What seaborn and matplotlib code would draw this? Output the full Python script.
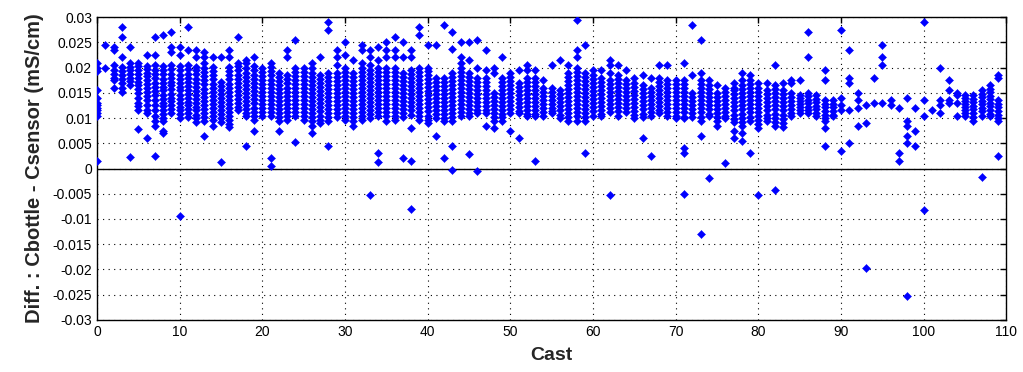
import pandas as pd
import matplotlib
matplotlib.use("Agg")
import matplotlib.pyplot as plt
import seaborn as sns
from matplotlib.ticker import FuncFormatter

# Cbottle - Csensor per cast, in 1e-3 mS/cm
diffs_casts_0_29 = [
    "21 20 19.3 15.5 14 13 12.5 12 11.5 11 10.5 1.5",
    "24.5 20",
    "24 23.5 20.5 19.5 18.8 18 17.5 16",
    "28 26 22 20.2 19.3 18.5 17.8 17 16 15.2",
    "24 21 20.2 19.5 18.8 18 17.3 16.5 2.2",
    "21 20.3 19.5 18.7 18 17.2 16.5 15.8 15 14 13 12.3 11.5 7.8",
    "22.5 20.4 19.7 19 18.3 17.5 16.7 16 15.2 14.4 13.5 12.5 11.6 11 6",
    "26 22.5 20.5 19.6 18.8 18 17 16.2 15.3 14.5 13.5 12.5 11.5 10.5 9.5 8.5 2.5",
    "26.5 20.3 19.5 18.7 17.8 17 16.2 15.5 14.6 13.8 13 12.3 11.5 10.8 10 9.5 7.5 7",
    "27 24 23 20.5 19.7 18.8 18 17.2 16.5 15.7 14.8 14 13.3 12.5 11.8 11",
    "24 22.5 20.3 19.5 18.5 17.8 17 16.2 15.5 14.6 13.8 13 12.2 11.5 10.8 10 -9.5",
    "28 23.5 20.5 19.7 18.8 18 17.2 16.3 15.5 14.7 14 13.2 12.5 11.8 11 10.3",
    "23.5 22 20.2 19.5 18.7 17.8 17 16.2 15.3 14.5 13.8 13 12.2 11.5 10.7 10 9.3",
    "23 22 21 20 19.2 18.3 17.5 16.7 15.8 15 14.2 13.4 12.6 11.8 11 10.2 9.5 6.5",
    "22 20.2 19.4 18.5 17.7 16.8 16 15.2 14.4 13.6 12.8 12 11.2 10.4 9.6 8.5",
    "22 17.2 16.4 15.5 14.7 13.9 13.2 12.4 11.6 10.8 10 9.3 1.2",
    "23.5 22 20.2 19.4 18.5 17.7 16.8 16 15.2 14.4 13.6 12.8 12 11.2 10.4 9.6 8.8 8.2",
    "26 21 20.3 19.5 18.6 17.8 17 16.2 15.4 14.6 13.8 13 12.2 11.5",
    "21.5 21 20 19 18.2 17.4 16.6 15.8 15 14.2 13.4 12.6 11.8 11 10.5 4.5",
    "22 20.3 19.5 18.6 17.8 17 16.2 15.4 14.5 13.7 12.9 12 11.2 10.4 9.6 7.5",
    "20 19.2 18.4 17.6 16.8 16 15.2 14.4 13.6 12.8 12 11.2 10.4",
    "21 20.2 19.3 18.5 17.6 16.8 16 15.2 14.4 13.5 12.7 11.9 11.1 10.5 2 0.5",
    "19 18.2 17.4 16.6 15.8 15 14.2 13.4 12.6 11.8 11 10.2 9.5 7.5",
    "23.5 22 18.5 17.7 16.9 16 15.2 14.4 13.6 12.8 12 11.2 10.4 9.6",
    "25.5 20 19.2 18.4 17.6 16.8 16 15.2 14.4 13.6 12.8 12 11.2 10.4 5.2",
    "20 19.2 18.4 17.6 16.8 16 15.2 14.4 13.6 12.8 12 11.2 10.4 9.6",
    "21 20 19 18.2 17.4 16.6 15.8 15 14.2 13.4 12.6 11.8 11 10.2 9.4 8.5 7",
    "22 18.5 17.7 16.9 16.1 15.3 14.5 13.7 12.9 12.1 11.3 10.5 9.7 9",
    "29 27.5 19 18.2 17.4 16.6 15.8 15 14.2 13.4 12.6 11.8 11 10.2 9.4 4.5",
    "23.5 22 20.5 19 18.2 17.4 16.6 15.8 15 14.2 13.4 12.6 11.8 11 10.2",
]
diffs_casts_30_59 = [
    "25 22.5 20 19.2 18.4 17.6 16.8 16 15.2 14.4 13.6 12.8 12 11.2 10.4 9.6",
    "21.5 19 18.2 17.4 16.6 15.8 15 14.2 13.4 12.6 11.8 11 10.2 9.4 8.5",
    "24.5 23.5 21 20 19.2 18.4 17.6 16.8 16 15.2 14.4 13.6 12.8 12 11.2 10.4 9.6",
    "23.5 22 20.5 19.6 18.8 18 17.2 16.4 15.6 14.8 14 13.2 12.4 11.6 10.8 10 -5.3",
    "24 21.5 20 19.2 18.4 17.6 16.8 16 15.2 14.4 13.6 12.8 12 11.2 10.4 3 1.3",
    "25 23.5 22 20 19.2 18.4 17.6 16.8 16 15.2 14.4 13.6 12.8 12 11.2 10.4 9.5",
    "26 23.5 22 20 19.2 18.4 17.6 16.8 16 15.2 14.4 13.6 12.8 12 11.2 10.4 9.6",
    "25 22 19 18.2 17.4 16.6 15.8 15 14.2 13.4 12.6 11.8 11 10.2 2",
    "23.5 22 19.5 18.7 17.9 17.1 16.3 15.5 14.7 13.9 13.1 12.3 11.5 10.7 8 1.5 -8",
    "28 26.5 20 19.2 18.4 17.6 16.8 16 15.2 14.4 13.6 12.8 12 11.2 10.4 9.6",
    "24.5 20 19.3 18.5 17.7 16.9 16.1 15.3 14.5 13.7 12.9 12.1 11.3 10.5 9.7 9",
    "24.5 18 17.2 16.4 15.6 14.8 14 13.2 12.4 11.6 10.8 10 6.5",
    "28.5 18 17.2 16.4 15.6 14.8 14 13.2 12.4 11.6 10.8 10 9.5 2",
    "27 23.7 19 18.2 17.4 16.6 15.8 15 14.2 13.4 12.6 11.8 11 10.2 9.5 4.5 -0.2",
    "25 22 21 20 19.2 18.4 17.6 16.8 16 15.2 14.4 13.6 12.8 12 11.2 10.4",
    "25 21.5 19 18.2 17.4 16.6 15.8 15 14.2 13.4 12.6 11.8 11 10.5 2.8",
    "25.5 20 18 17.2 16.4 15.6 14.8 14 13.2 12.4 11.6 11 -0.5",
    "23.5 19.5 18 17.2 16.4 15.6 14.8 14 13.2 12.4 11.6 11 8.5",
    "20 19 15 14.2 13.4 12.6 11.8 11 10.2 9.5 8",
    "22 18 17.2 16.4 15.6 14.8 14 13.2 12.4 11.6 10.8 10.2 9.5",
    "19 18.2 17.4 16.6 15.8 15 14.2 13.4 12.6 11.8 11 7.5",
    "19.5 17 16.2 15.4 14.6 13.8 13 12.2 11.4 11 6",
    "20.5 19.5 18 17.2 16.4 15.6 14.8 14 13.2 12.4 11.6 10.8 10.5",
    "19.5 18 17.2 16.4 15.6 14.8 14 13.2 12.4 11.6 10.8 10.5 1.5",
    "17.5 16 15.2 14.4 13.6 12.8 12 11.2 10.5",
    "20.5 16 15.2 14.4 13.6 12.8 12 11.4 11",
    "21.5 15.5 14.7 13.9 13.1 12.3 11.5 10.7 10",
    "20.5 19 18.2 17.4 16.6 15.8 15 14.2 13.4 12.6 11.8 11 10.2 9.5",
    "29.5 23.5 22 20 19.2 18.4 17.6 16.8 16 15.2 14.4 13.6 12.8 12 11.2 10.4 9.5",
    "24.5 19 18.2 17.4 16.6 15.8 15 14.2 13.4 12.6 11.8 11 10.2 9.5 3",
]
diffs_casts_60_89 = [
    "19.5 18.5 17.7 16.9 16.1 15.3 14.5 13.7 12.9 12.1 11.3 10.5",
    "19.5 18 17.2 16.4 15.6 14.8 14 13.2 12.4 11.6 10.8 10.5",
    "21.5 20.5 19 17.5 16.7 15.9 15.1 14.3 13.5 12.7 11.9 11.1 -5.3",
    "20.5 18.5 17.7 16.9 16.1 15.3 14.5 13.7 12.9 12.1 11.3 10.5",
    "19.5 17.5 16.7 15.9 15.1 14.3 13.5 12.7 11.9 11.1",
    "18 17 16.2 15.4 14.6 13.8 13 12.2 11.4 10.6 10",
    "18.5 16.5 15.7 14.9 14.1 13.3 12.5 11.7 10.9 10.2 6",
    "18 16 15.2 14.4 13.6 12.8 12 11.2 10.5 2.5",
    "20.5 18 17.2 16.4 15.6 14.8 14 13.2 12.4 11.6 11",
    "20.5 17.5 16.7 15.9 15.1 14.3 13.5 12.7 11.9 11.1 10.5",
    "17.5 16.7 15.9 15.1 14.3 13.5 12.7 11.9 11.1 10.5 10",
    "21 17.5 16.7 15.9 15.1 14.3 13.5 12.7 11.9 11.1 10.3 10 4 3 -5",
    "28.5 18.5 15 14.2 13.4 12.6 11.8 11 10.2",
    "25.5 19 17.5 16.7 15.9 15.1 14.3 13.5 12.7 11.9 11.1 10.3 9.5 6.5 -13",
    "17.5 16.5 15.7 14.9 14.1 13.3 12.5 11.7 10.9 10.5 -1.8",
    "16.5 15 14.2 13.4 12.6 11.8 11 10.2 9.5 8.5",
    "16 15.2 14.4 13.6 12.8 12 11.2 10.5 10 1",
    "17 16 15.5 14.7 13.9 13.1 12.3 11.5 10.7 9.9 9.2 7.5 6",
    "19 17.5 16.5 15.7 14.9 14.1 13.3 12.5 11.7 10.9 10.1 9.3 8.5 7 5.5",
    "18.5 17.5 16.7 15.9 15.1 14.3 13.5 12.7 11.9 11.1 10.3 9.5 3",
    "17 16 15.2 14.4 13.6 12.8 12 11.2 10.4 9.6 8.8 8 -5.3",
    "17 15.5 14.7 13.9 13.1 12.3 11.5 10.7 10 9.5",
    "20.5 16.5 15.7 14.9 14.1 13.3 12.5 11.7 10.9 10.1 9.3 8.5 -4.3",
    "17 15.5 14.7 13.9 13.1 12.3 11.5 10.7 9.9 9.1 8.3",
    "17.5 17 15 14.2 13.4 12.6 11.8 11 10.5",
    "17.5 14.5 13.9 13.3 12.7 12.1 11.5 11",
    "27 22 15 14.3 13.6 12.9 12.2 11.5 11",
    "14.5 13.8 13.1 12.4 11.7 11 10.5",
    "19.5 17.5 13.5 12.8 12.1 11.4 10.7 10 9.5 8 4.5",
    "13.5 12.8 12.1 11.4 10.7 10.5",
]
diffs_casts_90_109 = [
    "27.5 14 12.5 11.5 3.5",
    "23.5 18 17 11.5 5",
    "15 13.5 12 8.5",
    "12.5 9 -19.7",
    "18 13",
    "24.5 22 20.5 13",
    "13.5 12.5",
    "12 3 1.5",
    "14 9.5 8.5 6.5 5 -25.2",
    "12 7.5 4.5",
    "29 13.5 10.5 -8.2",
    "11.5",
    "20 13.5 12.5 11",
    "17.5 15.5 13.5 13",
    "15 14.5 13 10.5",
    "14.5 14 13.4 12.8 12.2 11.6 11 10.5",
    "14.5 13.8 13.1 12.4 11.7 11 10.3 9.5",
    "15.5 14.8 14.1 13.4 12.7 12 11.3 10.5 -1.7",
    "16.5 15.8 15.1 14.4 13.7 13 12.3 11.6 10.9 10.5",
    "18.5 18 13.5 12.8 12.1 11.4 10.7 10 9.5 2.5",
]

all_casts = diffs_casts_0_29 + diffs_casts_30_59 + diffs_casts_60_89 + diffs_casts_90_109
rows = []
for cast, vals in enumerate(all_casts):
    for v in vals.split():
        rows.append({"Cast": cast, "Diff": float(v) / 1000.0})
df = pd.DataFrame(rows)

sns.set_style("white")
plt.rcParams["font.family"] = ["Liberation Sans", "DejaVu Sans"]

fig = plt.figure(figsize=(10.23, 3.72), dpi=100)
ax = fig.add_axes([0.0948, 0.140, 0.889, 0.814])

ax.grid(True, linestyle=(0, (1, 4)), color="black", linewidth=0.8)
ax.set_axisbelow(True)
ax.axhline(0, color="black", linewidth=1.0, zorder=1)

sns.scatterplot(data=df, x="Cast", y="Diff", marker="D", s=17, color="#0000ff",
                edgecolor="#0000ff", linewidth=0.3, ax=ax, zorder=3, legend=False)

ax.set_xlim(0, 110)
ax.set_ylim(-0.03, 0.03)
ax.set_xticks(range(0, 111, 10))
ax.set_yticks([i * 0.005 for i in range(-6, 7)])
ax.yaxis.set_major_formatter(FuncFormatter(lambda v, p: f"{round(v, 4):g}"))
ax.tick_params(direction="in", top=True, right=True, length=4, width=1,
               labelsize=10, colors="black")
for sp in ax.spines.values():
    sp.set_color("black")
    sp.set_linewidth(1.0)

ax.set_xlabel("Cast", fontsize=14, fontweight="bold", labelpad=6)
ax.set_ylabel("Diff. : Cbottle - Csensor (mS/cm)", fontsize=14.5,
              fontweight="bold", labelpad=6)

fig.savefig("out.png", dpi=100)
